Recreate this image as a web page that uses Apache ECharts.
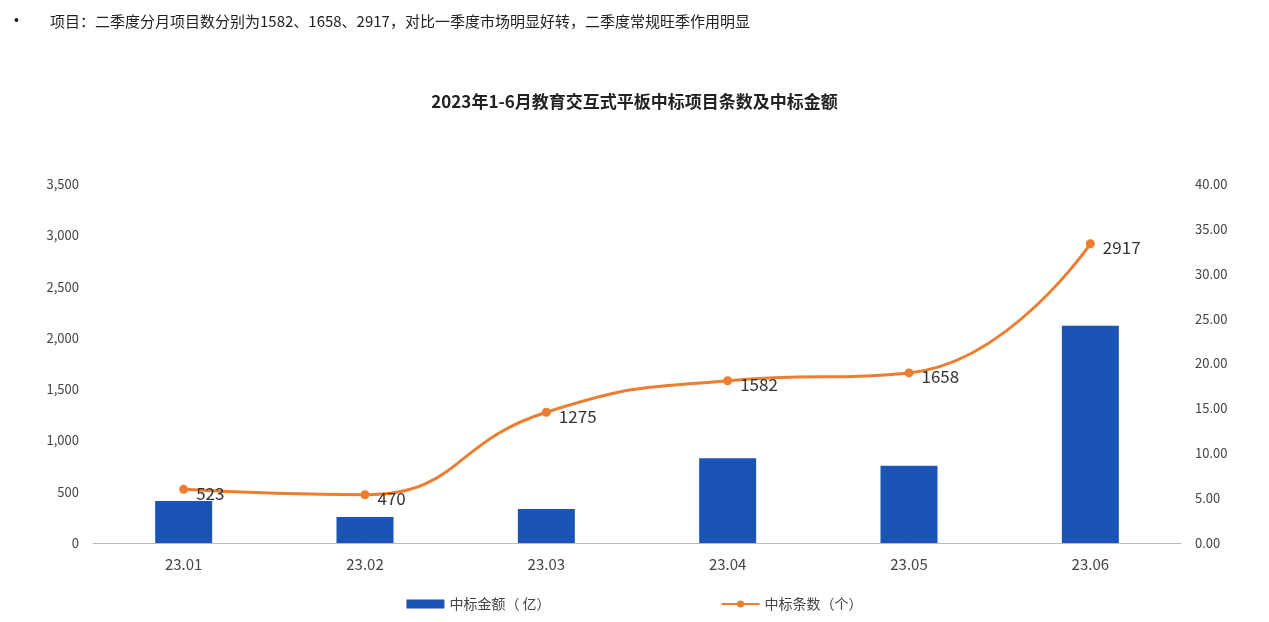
<!DOCTYPE html>
<html><head><meta charset="utf-8">
<script src="https://cdn.jsdelivr.net/npm/echarts@6/dist/echarts.min.js"></script>
<style>html,body{margin:0;padding:0;background:#fff}#c{width:1269px;height:622px}</style>
</head><body><div id="c"></div>
<script>
const categories=['23.01','23.02','23.03','23.04','23.05','23.06'];
const amountValues=[4.68,2.9,3.8,9.45,8.6,24.2];
const countValues=[523,470,1275,1582,1658,2917];
const leftTicks=[0,3500,500];
const rightTicks=[0,40,5];
const chart=echarts.init(document.getElementById('c'));
const font='"Noto Sans CJK SC","Noto Sans",sans-serif';
chart.setOption({
  animation:false,
  textStyle:{fontFamily:font},
  title:[{text:'2023年1-6月教育交互式平板中标项目条数及中标金额',left:'center',top:88,textStyle:{fontSize:17,fontWeight:'bold',color:'#222',fontFamily:font}}],
  graphic:[{type:'text',left:14,top:14,style:{text:'•',fontSize:14,fill:'#222',font:'14px '+font}},
           {type:'text',left:50,top:14,style:{text:'项目：二季度分月项目数分别为1582、1658、2917，对比一季度市场明显好转，二季度常规旺季作用明显',fill:'#222',font:'15px '+font}}],
  legend:{bottom:6,left:'center',itemGap:170,itemWidth:38,itemHeight:9,textStyle:{fontSize:14,color:'#444'},
    data:[{name:'中标金额（ 亿）',icon:'rect'},{name:'中标条数（个）'}]},
  grid:{left:93,right:88,top:184,bottom:79},
  xAxis:{type:'category',data:categories,axisTick:{show:false},axisLine:{lineStyle:{color:'#bbb'}},
    axisLabel:{fontSize:15,color:'#444',margin:14}},
  yAxis:[{type:'value',min:leftTicks[0],max:leftTicks[1],interval:leftTicks[2],splitLine:{show:false},
      axisLabel:{fontSize:13,color:'#444',margin:14}},
    {type:'value',min:rightTicks[0],max:rightTicks[1],interval:rightTicks[2],splitLine:{show:false},
      axisLabel:{fontSize:13,color:'#444',margin:14,formatter:v=>v.toFixed(2)}}],
  series:[
    {name:'中标金额（ 亿）',type:'bar',yAxisIndex:1,data:amountValues,barWidth:57,itemStyle:{color:'#1a54b5'}},
    {name:'中标条数（个）',type:'line',yAxisIndex:0,data:countValues,smooth:true,symbol:'circle',symbolSize:9,
      lineStyle:{color:'#ed7d31',width:3},itemStyle:{color:'#ed7d31'},
      label:{show:true,position:'right',distance:8,fontSize:17,color:'#333',offset:[0,4]}}
  ]
});
</script></body></html>
